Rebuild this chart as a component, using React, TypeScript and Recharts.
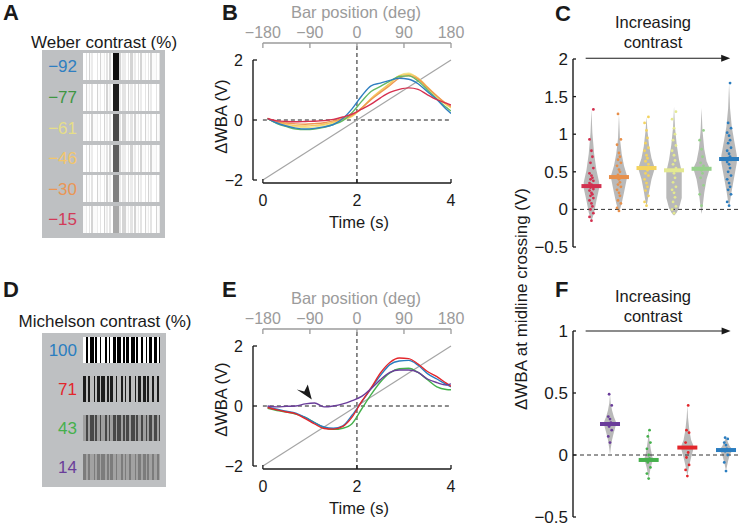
import React from "react";
import {
  LineChart, Line, XAxis, YAxis, ReferenceLine, ReferenceDot,
  ComposedChart, Area, Scatter,
} from "recharts";

const FONT = '"Liberation Sans", Arial, Helvetica, sans-serif';
const INK = "#1a1a1a";
const GREY_AXIS = "#9b9b9b";
const BOX = "#bec0c2";
const VIOLIN = "#b9b9b9";

// shared time base of the traces (s) and axis labels
const time = [0.1, 0.3, 0.5, 0.7, 0.9, 1.1, 1.3, 1.5, 1.7, 1.9, 2.1, 2.3, 2.5, 2.7, 2.9, 3.1, 3.3, 3.5, 3.7, 3.9, 4.0];
const timeTicks = [0, 2, 4];
const degTicks = [0, 1, 2, 3, 4];
const degLabels = ["−180", "−90", "0", "90", "180"];
const wbaTicks = [-2, 0, 2];
const wbaLabels = ["−2", "0", "2"];

// B: Weber contrast traces (V)
const weberNames = ["−92", "−77", "−61", "−46", "−30", "−15"];
const weberColors = ["#2f7fc1", "#3f9643", "#e6de88", "#f2c66b", "#ea9655", "#d23a58"];
const weberLineColors = ["#2f7fc1", "#63b963", "#efe58c", "#f6c85f", "#ee9852", "#d6304f"];
const weber92 = [0.05, -0.1, -0.2, -0.27, -0.3, -0.28, -0.23, -0.15, 0.05, 0.38, 0.8, 1.14, 1.23, 1.32, 1.39, 1.36, 1.21, 0.94, 0.68, 0.36, 0.22];
const weber77 = [0.05, -0.12, -0.22, -0.3, -0.32, -0.3, -0.24, -0.15, -0.02, 0.25, 0.62, 0.95, 1.12, 1.3, 1.45, 1.47, 1.3, 1.0, 0.7, 0.42, 0.3];
const weber61 = [0.05, -0.1, -0.18, -0.23, -0.25, -0.23, -0.18, -0.1, 0.0, 0.12, 0.38, 0.7, 0.95, 1.2, 1.48, 1.56, 1.38, 1.05, 0.76, 0.5, 0.4];
const weber46 = [0.05, -0.08, -0.14, -0.19, -0.2, -0.18, -0.14, -0.07, 0.02, 0.14, 0.4, 0.72, 0.98, 1.22, 1.47, 1.52, 1.4, 1.1, 0.8, 0.52, 0.42];
const weber30 = [0.05, -0.06, -0.1, -0.13, -0.14, -0.12, -0.09, -0.03, 0.05, 0.16, 0.4, 0.68, 0.92, 1.15, 1.4, 1.48, 1.36, 1.08, 0.8, 0.55, 0.45];
const weber15 = [0.05, -0.03, -0.05, -0.06, -0.05, -0.04, -0.02, 0.02, 0.1, 0.2, 0.36, 0.53, 0.74, 0.92, 1.02, 1.07, 1.02, 0.84, 0.68, 0.56, 0.5];

// E: Michelson contrast traces (V)
const michelsonNames = ["100", "71", "43", "14"];
const michelsonColors = ["#2a7dc0", "#e3262b", "#45b04c", "#6a3d9a"];
const mich100 = [-0.03, -0.11, -0.17, -0.24, -0.38, -0.56, -0.7, -0.74, -0.66, -0.3, 0.14, 0.58, 1.02, 1.38, 1.5, 1.52, 1.36, 1.08, 0.9, 0.72, 0.64];
const mich71 = [-0.05, -0.13, -0.2, -0.26, -0.42, -0.6, -0.75, -0.77, -0.68, -0.36, 0.15, 0.6, 1.1, 1.45, 1.6, 1.58, 1.4, 1.15, 0.98, 0.76, 0.66];
const mich43 = [-0.08, -0.15, -0.2, -0.27, -0.38, -0.55, -0.72, -0.78, -0.74, -0.58, -0.1, 0.38, 0.8, 1.1, 1.24, 1.26, 1.12, 0.88, 0.64, 0.55, 0.54];
const mich14 = [0.0, -0.03, -0.01, 0.0, 0.07, 0.1, -0.03, 0.0, 0.07, 0.18, 0.32, 0.58, 0.88, 1.12, 1.2, 1.2, 1.12, 0.9, 0.78, 0.7, 0.74];

// C: WBA at midline crossing, Weber contrast, low -> high
const colorsC = ["#d2304f", "#e78f4a", "#f3d35f", "#e4e991", "#97d18c", "#2b7cbd"];
const mediansC = [0.31, 0.43, 0.55, 0.52, 0.54, 0.67];
const crossW15 = [-0.15, -0.1, -0.05, 0.0, 0.04, 0.08, 0.12, 0.15, 0.18, 0.2, 0.22, 0.25, 0.27, 0.29, 0.31, 0.33, 0.35, 0.38, 0.4, 0.42, 0.45, 0.48, 0.55, 0.62, 0.7, 0.78, 0.93, 1.33];
const crossW30 = [-0.02, 0.02, 0.08, 0.12, 0.18, 0.22, 0.26, 0.3, 0.33, 0.36, 0.4, 0.42, 0.44, 0.46, 0.5, 0.53, 0.58, 0.62, 0.66, 0.7, 0.75, 0.86, 0.93, 1.27];
const crossW46 = [0.05, 0.1, 0.18, 0.25, 0.3, 0.35, 0.4, 0.45, 0.48, 0.52, 0.54, 0.56, 0.6, 0.64, 0.68, 0.72, 0.78, 0.82, 0.88, 0.95, 1.05, 1.15, 1.23];
const crossW61 = [-0.05, 0.0, 0.04, 0.1, 0.16, 0.22, 0.26, 0.3, 0.36, 0.42, 0.48, 0.52, 0.55, 0.6, 0.65, 0.72, 0.78, 0.85, 0.92, 1.0, 1.08, 1.2, 1.3];
const crossW77 = [0.05, 0.2, 0.32, 0.42, 0.48, 0.52, 0.55, 0.58, 0.62, 0.7, 0.8, 0.92, 1.05];
const crossW92 = [0.05, 0.1, 0.2, 0.26, 0.3, 0.35, 0.4, 0.45, 0.5, 0.55, 0.6, 0.63, 0.66, 0.68, 0.7, 0.74, 0.78, 0.82, 0.88, 0.92, 0.98, 1.02, 1.08, 1.15, 1.68];
// violin outline: [low, high] going out from the centre
const violinW15 = [[-0.15, 1.33], [-0.12, 1.02], [-0.04, 0.74], [0.12, 0.52], [0.28, 0.36]];
const violinW30 = [[-0.02, 1.27], [0.0, 0.95], [0.08, 0.74], [0.22, 0.58], [0.4, 0.46]];
const violinW46 = [[0.05, 1.23], [0.1, 1.05], [0.24, 0.84], [0.4, 0.68], [0.52, 0.57]];
const violinW61 = [[-0.08, 1.37], [-0.07, 1.1], [-0.04, 0.86], [0.02, 0.66], [0.15, 0.5]];
const violinW77 = [[-0.06, 1.35], [0.02, 1.05], [0.22, 0.8], [0.4, 0.64], [0.52, 0.56]];
const violinW92 = [[0.05, 1.68], [0.1, 1.35], [0.25, 1.1], [0.42, 0.92], [0.62, 0.72]];
const cTicks = [-0.5, 0, 0.5, 1, 1.5, 2];
const cTickLabels = ["−0.5", "0", "0.5", "1", "1.5", "2"];

// F: same measure, Michelson contrast, low -> high
const colorsF = ["#6a3d9a", "#45b04c", "#e3262b", "#2a7dc0"];
const mediansF = [0.25, -0.04, 0.06, 0.04];
const crossM14 = [0.1, 0.15, 0.2, 0.23, 0.26, 0.29, 0.31, 0.4, 0.49];
const crossM43 = [-0.19, -0.15, -0.1, -0.06, -0.03, 0.0, 0.05, 0.1, 0.15, 0.2];
const crossM71 = [-0.17, -0.12, -0.08, -0.02, 0.02, 0.06, 0.1, 0.18, 0.2, 0.4];
const crossM100 = [-0.13, -0.06, 0.0, 0.03, 0.05, 0.08, 0.1, 0.13, 0.14];
const violinM14 = [[0.0, 0.49], [0.05, 0.42], [0.12, 0.36], [0.18, 0.31], [0.24, 0.27]];
const violinM43 = [[-0.19, 0.2], [-0.16, 0.13], [-0.1, 0.05], [-0.05, -0.02], [-0.04, -0.03]];
const violinM71 = [[-0.17, 0.4], [-0.14, 0.3], [-0.08, 0.2], [-0.02, 0.12], [0.04, 0.08]];
const violinM100 = [[-0.13, 0.14], [-0.1, 0.13], [-0.05, 0.1], [0.0, 0.07], [0.03, 0.05]];
const fTicks = [-0.5, 0, 0.5, 1];
const fTickLabels = ["−0.5", "0", "0.5", "1"];

// stimulus textures (A, D)
const weberTexture = ["#ffffff", "#e4e4e4", "#ffffff", "#d4d4d4", "#fbfbfb", "#ececec"];
const weberBarShades = ["#0d0d0d", "#1e1e1e", "#4a4a4a", "#5e5e5e", "#808080", "#a8a8a8"];
const michelsonShades = [["#000000", "#ffffff"], ["#1c1c1c", "#bdbdbd"], ["#474747", "#9f9f9f"], ["#7c7c7c", "#a2a2a2"]];
const barsA = [3, 1, 2, 1, 1, 2, 4, 1, 2, 1, 3, 1, 1, 2, 1, 2, 2, 1, 3, 1, 1, 2, 1, 4, 2, 1, 1, 3, 1, 2, 2, 1, 1, 2, 3, 1, 2, 1, 1, 2, 4, 1, 2, 3];
const barsD = [3, 2, 2, 4, 1, 2, 3, 1, 4, 2, 2, 1, 3, 3, 1, 4, 2, 2, 1, 3, 2, 4, 1, 2, 3, 2, 3, 1, 2, 3, 2, 3, 2, 1];

const weberTable = time.map((t, i) => ({
  t, w92: weber92[i], w77: weber77[i], w61: weber61[i], w46: weber46[i], w30: weber30[i], w15: weber15[i],
}));
const michelsonTable = time.map((t, i) => ({
  t, m100: mich100[i], m71: mich71[i], m43: mich43[i], m14: mich14[i],
}));

const steps = [0, 0.12, 0.35, 0.65, 1];
function violinRows(profiles: number[][][], halfWidth: number) {
  const rows: any[] = [];
  profiles.forEach((prof, i) => {
    const c = i + 1;
    for (let k = steps.length - 1; k >= 0; k--) rows.push({ x: c - steps[k] * halfWidth, [`v${i}`]: prof[k] });
    for (let k = 1; k < steps.length; k++) rows.push({ x: c + steps[k] * halfWidth, [`v${i}`]: prof[k] });
  });
  return rows;
}

const jitter = [0, -1, 1, -0.5, 0.5];
function dots(vals: number[], i: number, spread: number) {
  return vals.map((y, j) => ({ x: i + 1 + jitter[j % jitter.length] * spread, y }));
}

function stripes(widths: number[], colors: string[], shift: number) {
  let pos = 0;
  const stops = widths.map((w, i) => {
    const s = `${colors[(i + shift) % colors.length]} ${pos}px ${pos + w}px`;
    pos += w;
    return s;
  });
  return `linear-gradient(to right, ${stops.join(", ")})`;
}

function Txt({ x, y, children, size = 16, color = INK, rotate = false, bold = false, align = "center" }: any) {
  const w = 300;
  const h = size * 1.3;
  const left = align === "center" ? x - w / 2 : align === "right" ? x - w : x;
  return (
    <div style={{
      position: "absolute", left, top: y - h / 2, width: w, height: h, lineHeight: `${h}px`,
      fontSize: size, fontWeight: bold ? 700 : 400, color, textAlign: align, whiteSpace: "nowrap",
      transform: rotate ? "rotate(-90deg)" : undefined, transformOrigin: "50% 50%",
    }}>{children}</div>
  );
}

const tickText = (fill: string, size: number) => ({ fontSize: size, fill, fontFamily: FONT });

function TracePanel({ top, data, series, marker }: { top: number; data: any[]; series: { key: string; color: string }[]; marker?: boolean }) {
  return (
    <div style={{ position: "absolute", left: 200, top }}>
      <LineChart width={265} height={215} data={data} margin={{ top: 0, right: 14, bottom: 0, left: 0 }}>
        <XAxis dataKey="t" type="number" domain={[-0.21, 4]} ticks={timeTicks} interval={0} allowDataOverflow
          axisLine={false} tickSize={-4} tickMargin={16} height={32}
          tick={tickText(INK, 16)} tickLine={{ stroke: INK, strokeWidth: 1.3 }} />
        <XAxis xAxisId="deg" orientation="top" dataKey="t" type="number" domain={[-0.21, 4]} ticks={degTicks}
          interval={0} allowDataOverflow tickFormatter={(v: number) => degLabels[degTicks.indexOf(v)]}
          axisLine={false} tickSize={-5} tickMargin={10} height={43}
          tick={tickText(GREY_AXIS, 16)} tickLine={{ stroke: GREY_AXIS, strokeWidth: 1.3 }} />
        <YAxis type="number" domain={[-2.1, 2.567]} ticks={wbaTicks} interval={0} allowDataOverflow
          tickFormatter={(v: number) => wbaLabels[wbaTicks.indexOf(v)]}
          axisLine={false} tickSize={-4} tickMargin={14} width={53}
          tick={tickText(INK, 16)} tickLine={{ stroke: INK, strokeWidth: 1.3 }} />
        <ReferenceLine ifOverflow="visible" segment={[{ x: 0, y: 2.567 }, { x: 4, y: 2.567 }]} stroke={GREY_AXIS} strokeWidth={1.4} />
        <ReferenceLine ifOverflow="visible" segment={[{ x: 0, y: -2.1 }, { x: 4, y: -2.1 }]} stroke={INK} strokeWidth={1.4} />
        <ReferenceLine ifOverflow="visible" segment={[{ x: -0.21, y: -2 }, { x: -0.21, y: 2 }]} stroke={INK} strokeWidth={1.4} />
        <ReferenceLine ifOverflow="visible" segment={[{ x: 0, y: 0 }, { x: 4, y: 0 }]} stroke={INK} strokeDasharray="4 3" />
        <ReferenceLine x={2} stroke={INK} strokeDasharray="4 3" />
        <ReferenceLine ifOverflow="visible" segment={[{ x: 0, y: -2 }, { x: 4, y: 2 }]} stroke="#a5a5a5" strokeWidth={1.2} />
        {series.map((s) => (
          <Line key={s.key} dataKey={s.key} type="monotone" stroke={s.color} strokeWidth={1.4}
            dot={false} activeDot={false} isAnimationActive={false} />
        ))}
        {marker && (
          <ReferenceDot x={1.04} y={0.22} ifOverflow="visible"
            shape={(p: any) => (
              <path d={`M${p.cx},${p.cy} L${p.cx - 15},${p.cy - 10} L${p.cx - 7.5},${p.cy - 8} L${p.cx - 4},${p.cy - 15} Z`} fill={INK} />
            )} />
        )}
      </LineChart>
    </div>
  );
}

function ViolinPanel(props: {
  top: number; height: number; mTop: number; mBottom: number; yDomain: number[]; ticks: number[]; labels: string[];
  xDomain: number[]; profiles: number[][][]; points: number[][]; medians: number[]; colors: string[];
  halfWidth: number; spread: number; arrowY: number; arrowFrom: number; arrowTo: number; headLen: number;
}) {
  const rows = violinRows(props.profiles, props.halfWidth);
  return (
    <div style={{ position: "absolute", left: 520, top: props.top }}>
      <ComposedChart width={219} height={props.height} data={rows}
        margin={{ top: props.mTop, right: 0, bottom: props.mBottom, left: 0 }}>
        <XAxis dataKey="x" type="number" domain={props.xDomain} hide allowDataOverflow />
        <YAxis dataKey="y" type="number" domain={props.yDomain} ticks={props.ticks} interval={0} allowDataOverflow
          tickFormatter={(v: number) => props.labels[props.ticks.indexOf(v)]}
          axisLine={{ stroke: INK, strokeWidth: 1.4 }} tickSize={-3} tickMargin={8} width={53}
          tick={tickText(INK, 17)} tickLine={{ stroke: INK, strokeWidth: 1.3 }} />
        {props.profiles.map((_, i) => (
          <Area key={`v${i}`} dataKey={`v${i}`} type="linear" stroke="none" fill={VIOLIN} fillOpacity={1}
            dot={false} activeDot={false} isAnimationActive={false} />
        ))}
        <ReferenceLine y={0} stroke="#333" strokeDasharray="4 3" />
        {props.points.map((vals, i) => (
          <Scatter key={`d${i}`} data={dots(vals, i, props.spread)} dataKey="y" fill={props.colors[i]} isAnimationActive={false}
            shape={(p: any) => <circle cx={p.cx} cy={p.cy} r={1.4} fill={props.colors[i]} />} />
        ))}
        {props.medians.map((m, i) => (
          <Scatter key={`m${i}`} data={[{ x: i + 1, y: m }]} dataKey="y" fill={props.colors[i]} isAnimationActive={false}
            shape={(p: any) => <rect x={p.cx - 10} y={p.cy - 2} width={20} height={4} fill={props.colors[i]} />} />
        ))}
        <ReferenceLine ifOverflow="visible" segment={[{ x: props.arrowFrom, y: props.arrowY }, { x: props.arrowTo - props.headLen, y: props.arrowY }]}
          stroke={INK} strokeWidth={1.2} />
        <ReferenceDot x={props.arrowTo} y={props.arrowY} ifOverflow="visible"
          shape={(p: any) => <path d={`M${p.cx},${p.cy} L${p.cx - 9},${p.cy - 3.5} L${p.cx - 9},${p.cy + 3.5} Z`} fill={INK} />} />
      </ComposedChart>
    </div>
  );
}

function WeberStimulus() {
  return (
    <>
      <div style={{ position: "absolute", left: 42, top: 50, width: 123, height: 188, background: BOX }} />
      {weberNames.map((name, i) => {
        const top = 53 + i * 30.6;
        return (
          <React.Fragment key={name}>
            <Txt x={77} y={top + 14.5} align="right" color={weberColors[i]} size={17}>{name}</Txt>
            <div style={{ position: "absolute", left: 83, top, width: 77, height: 27, background: stripes(barsA, weberTexture, i * 2) }} />
            <div style={{ position: "absolute", left: 113, top, width: 6, height: 27, background: weberBarShades[i] }} />
          </React.Fragment>
        );
      })}
    </>
  );
}

function MichelsonStimulus() {
  return (
    <>
      <div style={{ position: "absolute", left: 42, top: 333, width: 124, height: 154, background: BOX }} />
      {michelsonNames.map((name, i) => {
        const top = 337 + i * 39;
        return (
          <React.Fragment key={name}>
            <Txt x={77} y={top + 14} align="right" color={michelsonColors[i]} size={17}>{name}</Txt>
            <div style={{ position: "absolute", left: 83, top, width: 77, height: 26, background: stripes(barsD, [michelsonShades[i][1], michelsonShades[i][0]], i) }} />
          </React.Fragment>
        );
      })}
    </>
  );
}

export default function App() {
  return (
    <div style={{ position: "absolute", left: 0, top: 0, width: 739, height: 528, background: "#fff", fontFamily: FONT, color: INK, overflow: "hidden" }}>
      <Txt x={3} y={13.5} align="left" size={22} bold>A</Txt>
      <Txt x={222} y={13.5} align="left" size={22} bold>B</Txt>
      <Txt x={555} y={14} align="left" size={22} bold>C</Txt>
      <Txt x={3} y={290} align="left" size={22} bold>D</Txt>
      <Txt x={222} y={290} align="left" size={22} bold>E</Txt>
      <Txt x={555} y={290} align="left" size={22} bold>F</Txt>

      <Txt x={104} y={43} size={17}>Weber contrast (%)</Txt>
      <WeberStimulus />
      <Txt x={105} y={322} size={17}>Michelson contrast (%)</Txt>
      <MichelsonStimulus />

      <Txt x={356} y={13} size={16.5} color={GREY_AXIS}>Bar position (deg)</Txt>
      <Txt x={359} y={223} size={16.5}>Time (s)</Txt>
      <Txt x={222} y={117} size={16.5} rotate>ΔWBA (V)</Txt>
      <TracePanel top={0} data={weberTable} series={[
        { key: "w61", color: weberLineColors[2] },
        { key: "w46", color: weberLineColors[3] },
        { key: "w30", color: weberLineColors[4] },
        { key: "w77", color: weberLineColors[1] },
        { key: "w92", color: weberLineColors[0] },
        { key: "w15", color: weberLineColors[5] },
      ]} />

      <Txt x={356} y={299} size={16.5} color={GREY_AXIS}>Bar position (deg)</Txt>
      <Txt x={359} y={509} size={16.5}>Time (s)</Txt>
      <Txt x={222} y={400} size={16.5} rotate>ΔWBA (V)</Txt>
      <TracePanel top={286} data={michelsonTable} marker series={[
        { key: "m43", color: michelsonColors[2] },
        { key: "m100", color: michelsonColors[0] },
        { key: "m71", color: michelsonColors[1] },
        { key: "m14", color: michelsonColors[3] },
      ]} />

      <ViolinPanel top={0} height={270} mTop={59} mBottom={23} yDomain={[-0.5, 2]} ticks={cTicks} labels={cTickLabels}
        xDomain={[0.33, 6.36]} halfWidth={0.28} spread={0.07}
        profiles={[violinW15, violinW30, violinW46, violinW61, violinW77, violinW92]}
        points={[crossW15, crossW30, crossW46, crossW61, crossW77, crossW92]}
        medians={mediansC} colors={colorsC} arrowY={2.01} arrowFrom={0.79} arrowTo={6.04} headLen={0.3} />
      <Txt x={653} y={23} size={16.5}>Increasing</Txt>
      <Txt x={653} y={43} size={16.5}>contrast</Txt>

      <ViolinPanel top={270} height={258} mTop={61} mBottom={11} yDomain={[-0.5, 1]} ticks={fTicks} labels={fTickLabels}
        xDomain={[0.043, 4.336]} halfWidth={0.15} spread={0.045}
        profiles={[violinM14, violinM43, violinM71, violinM100]}
        points={[crossM14, crossM43, crossM71, crossM100]}
        medians={mediansF} colors={colorsF} arrowY={1.0} arrowFrom={0.37} arrowTo={4.12} headLen={0.22} />
      <Txt x={653} y={297} size={16.5}>Increasing</Txt>
      <Txt x={653} y={317} size={16.5}>contrast</Txt>

      <Txt x={522} y={299} size={17} rotate>ΔWBA at midline crossing (V)</Txt>
    </div>
  );
}
